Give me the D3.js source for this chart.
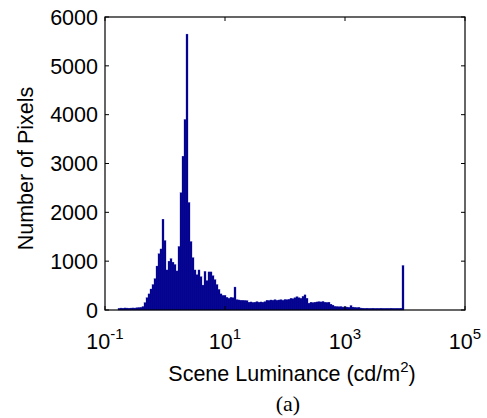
<!DOCTYPE html>
<html>
<head>
<meta charset="utf-8">
<script src="https://cdn.jsdelivr.net/npm/d3@7"></script>
<style>
body { margin: 0; background: #fff; }
svg { display: block; }
text { font-family: "Liberation Sans", Arial, sans-serif; fill: #000; }
</style>
</head>
<body>
<div id="chart"></div>
<script>
// histogram bins: log10 of first bin edge, bins per decade
var binStartLog = -0.78333;
var binsPerDecade = 30;

// pixel counts per bin
var counts = [
  35, 40, 38, 42, 40, 38, 40, 42, 40, 45, 50, 55,
  70, 150, 250, 330, 430, 520, 640, 900, 1150, 1250,
  1860, 1420, 820, 1000, 1050, 980, 930, 800, 1300, 2400, 3150, 3900, 5650, 2200,
  1400, 1070, 820, 720, 820, 680, 510, 790, 600, 780, 780, 700, 620, 520, 420,
  330, 300, 300, 260, 240, 260, 250, 470, 210,
  205, 200, 200, 195, 190,
  160, 165, 155, 160, 170, 160, 165, 160, 170,
  200, 195, 205, 200, 210, 200, 205, 210, 200, 215, 210, 220,
  240, 230, 250, 270, 250, 240, 280, 310, 240,
  140, 160, 150, 160, 165, 170, 165, 175, 160, 155, 160,
  120, 100, 75, 70, 65, 70, 60, 65,
  60, 55, 90, 60, 55, 50, 55,
  40, 38, 36, 38, 35, 36, 38, 35, 36, 35, 38, 36, 35, 36, 35, 38, 36, 35, 36, 35, 38,
  910
];

var xTicks = [0.1, 10, 1000, 100000];
var xTickExp = ["-1", "1", "3", "5"];
var yTicks = [0, 1000, 2000, 3000, 4000, 5000, 6000];

var svg = d3.select("#chart").append("svg").attr("width", 487).attr("height", 418);

var mLeft = 105, mRight = 465, mTop = 17, mBottom = 310;

var x = d3.scaleLog().domain([0.1, 100000]).range([mLeft, mRight]);
var y = d3.scaleLinear().domain([0, 6000]).range([mBottom, mTop]);

var bins = counts.map(function(c, i) {
  return {
    x0: Math.pow(10, binStartLog + i / binsPerDecade),
    x1: Math.pow(10, binStartLog + (i + 1) / binsPerDecade),
    n: c
  };
});

// bars
svg.append("g")
  .selectAll("rect")
  .data(bins)
  .enter().append("rect")
    .attr("x", function(d) { return x(d.x0); })
    .attr("width", function(d) { return x(d.x1) - x(d.x0); })
    .attr("y", function(d) { return y(d.n); })
    .attr("height", function(d) { return y(0) - y(d.n); })
    .attr("fill", "#00008f")
    .attr("stroke", "#1a1a9a")
    .attr("stroke-width", 0.3);

// frame
svg.append("rect")
  .attr("x", mLeft).attr("y", mTop)
  .attr("width", mRight - mLeft).attr("height", mBottom - mTop)
  .attr("fill", "none").attr("stroke", "#000").attr("stroke-width", 1.2);

// inward ticks on all sides
var tk = 4;
var ticks = svg.append("g").attr("stroke", "#000").attr("stroke-width", 1);
xTicks.forEach(function(t) {
  ticks.append("line").attr("x1", x(t)).attr("x2", x(t)).attr("y1", mBottom).attr("y2", mBottom - tk);
  ticks.append("line").attr("x1", x(t)).attr("x2", x(t)).attr("y1", mTop).attr("y2", mTop + tk);
});
yTicks.forEach(function(t) {
  ticks.append("line").attr("x1", mLeft).attr("x2", mLeft + tk).attr("y1", y(t)).attr("y2", y(t));
  ticks.append("line").attr("x1", mRight).attr("x2", mRight - tk).attr("y1", y(t)).attr("y2", y(t));
});

// y tick labels
svg.append("g")
  .selectAll("text")
  .data(yTicks)
  .enter().append("text")
    .attr("x", mLeft - 7)
    .attr("y", function(d) { return y(d); })
    .attr("dy", "0.36em")
    .attr("text-anchor", "end")
    .attr("font-size", 21.5)
    .text(function(d) { return d; });

// x tick labels 10^n
xTicks.forEach(function(t, i) {
  var lab = svg.append("text")
    .attr("x", x(t))
    .attr("y", 349)
    .attr("text-anchor", "middle")
    .attr("font-size", 21.5);
  lab.append("tspan").text("10");
  lab.append("tspan").attr("dy", -10).attr("font-size", 15).text(xTickExp[i]);
});

// axis titles
var xt = svg.append("text")
  .attr("x", (mLeft + mRight) / 2 + 7)
  .attr("y", 381)
  .attr("text-anchor", "middle")
  .attr("font-size", 21.5);
xt.append("tspan").text("Scene Luminance (cd/m");
xt.append("tspan").attr("dy", -9).attr("font-size", 15).text("2");
xt.append("tspan").attr("dy", 9).text(")");

svg.append("text")
  .attr("transform", "translate(33," + ((mTop + mBottom) / 2 + 5) + ") rotate(-90)")
  .attr("text-anchor", "middle")
  .attr("font-size", 21.5)
  .text("Number of Pixels");

svg.append("text")
  .attr("x", 288)
  .attr("y", 411)
  .attr("text-anchor", "middle")
  .attr("font-size", 22)
  .style("font-family", "'Liberation Serif', 'Times New Roman', serif")
  .text("(a)");
</script>
</body>
</html>
